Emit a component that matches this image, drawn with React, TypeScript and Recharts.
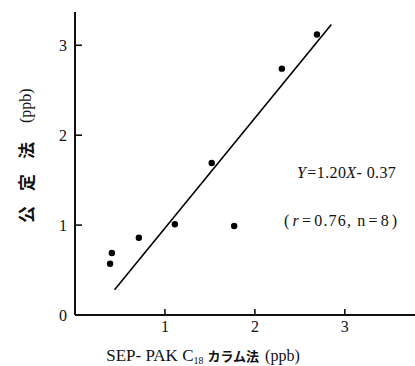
import React from 'react';
import { ScatterChart, Scatter, XAxis, YAxis, Customized } from 'recharts';

// SEP-PAK C18 column method (x) vs official method (y), ppb
const sepPak = [0.39, 0.41, 0.71, 1.11, 1.52, 1.77, 2.3, 2.69];
const official = [0.57, 0.69, 0.86, 1.01, 1.69, 0.99, 2.74, 3.12];
// regression line end points as drawn
const fitX = [0.44, 2.85];
const fitY = [0.28, 3.23];
const xTicks = [1, 2, 3];
const yTicks = [0, 1, 2, 3];

const points = sepPak.map((x, i) => ({ x, y: official[i] }));
const fitLine = fitX.map((x, i) => ({ x, y: fitY[i] }));

const serif = '"Liberation Serif", "DejaVu Serif", serif';
const jp = '"Noto Sans CJK JP", sans-serif';

const YTick: React.FC<any> = ({ x, y, payload }) => (
    <g>
        <line x1={x} y1={y} x2={x + 7} y2={y} stroke="#111" strokeWidth={1.6} />
        <text x={x - 8} y={y + 5.5} textAnchor="end" fontSize={16} fontFamily={serif} fill="#111">
            {payload.value}
        </text>
    </g>
);

const XTick: React.FC<any> = ({ x, y, payload }) => (
    <g>
        <line x1={x} y1={y} x2={x} y2={y - 6} stroke="#111" strokeWidth={1.6} />
        <text x={x} y={y + 17} textAnchor="middle" fontSize={16} fontFamily={serif} fill="#111">
            {payload.value}
        </text>
    </g>
);

const Dot: React.FC<any> = ({ cx, cy }) => <circle cx={cx} cy={cy} r={3.2} fill="#000" />;
const NoDot = () => <g />;

const Notes = () => (
    <g fill="#111">
        <text x={25} y={223} transform="rotate(-90 25 223)" textAnchor="start" dominantBaseline="central">
            <tspan fontFamily={jp} fontSize={17} fontWeight={700} letterSpacing={15}>公定法</tspan>
            <tspan fontFamily={serif} fontSize={16} dx={4}>(ppb)</tspan>
        </text>
        <text x={203} y={361} textAnchor="middle">
            <tspan fontFamily={serif} fontSize={17}>SEP- PAK C</tspan>
            <tspan fontFamily={serif} fontSize={10} dy={3}>18</tspan>
            <tspan fontFamily={jp} fontSize={13} fontWeight={700} dy={-3} dx={4}>カラム法</tspan>
            <tspan fontFamily={serif} fontSize={16} dx={6}>(ppb)</tspan>
        </text>
        <text x={297} y={178} fontFamily={serif} fontSize={16} letterSpacing={0.4}>
            <tspan fontStyle="italic">Y</tspan>
            <tspan dx={1}>=1.20</tspan>
            <tspan fontStyle="italic">X</tspan>
            <tspan>- 0.37</tspan>
        </text>
        <text x={284} y={226} fontFamily={serif} fontSize={16} letterSpacing={1.2}>
            <tspan>(</tspan>
            <tspan fontStyle="italic" dx={2}>r</tspan>
            <tspan dx={2}>=</tspan>
            <tspan dx={2}>0.76,</tspan>
            <tspan dx={5}>n</tspan>
            <tspan dx={2}>=</tspan>
            <tspan dx={2}>8</tspan>
            <tspan dx={2}>)</tspan>
        </text>
    </g>
);

export default function App() {
    return (
        <div style={{ position: 'absolute', left: 0, top: 0, width: 415, height: 366, background: '#fff' }}>
            <ScatterChart width={415} height={366} margin={{ top: 12, right: 0, left: 5, bottom: 21 }}>
                <XAxis
                    type="number"
                    dataKey="x"
                    domain={[0, 3.78]}
                    ticks={xTicks}
                    tick={<XTick />}
                    tickLine={false}
                    tickSize={0}
                    tickMargin={0}
                    height={30}
                    axisLine={{ stroke: '#111', strokeWidth: 2 }}
                    allowDataOverflow
                />
                <YAxis
                    type="number"
                    dataKey="y"
                    domain={[0, 3.37]}
                    ticks={yTicks}
                    tick={<YTick />}
                    tickLine={false}
                    tickSize={0}
                    tickMargin={0}
                    width={70}
                    axisLine={{ stroke: '#111', strokeWidth: 2 }}
                    allowDataOverflow
                />
                <Scatter data={fitLine} line={{ stroke: '#000', strokeWidth: 1.6 }} lineType="joint" shape={<NoDot />} isAnimationActive={false} />
                <Scatter data={points} shape={<Dot />} isAnimationActive={false} />
                <Customized component={Notes} />
            </ScatterChart>
        </div>
    );
}
